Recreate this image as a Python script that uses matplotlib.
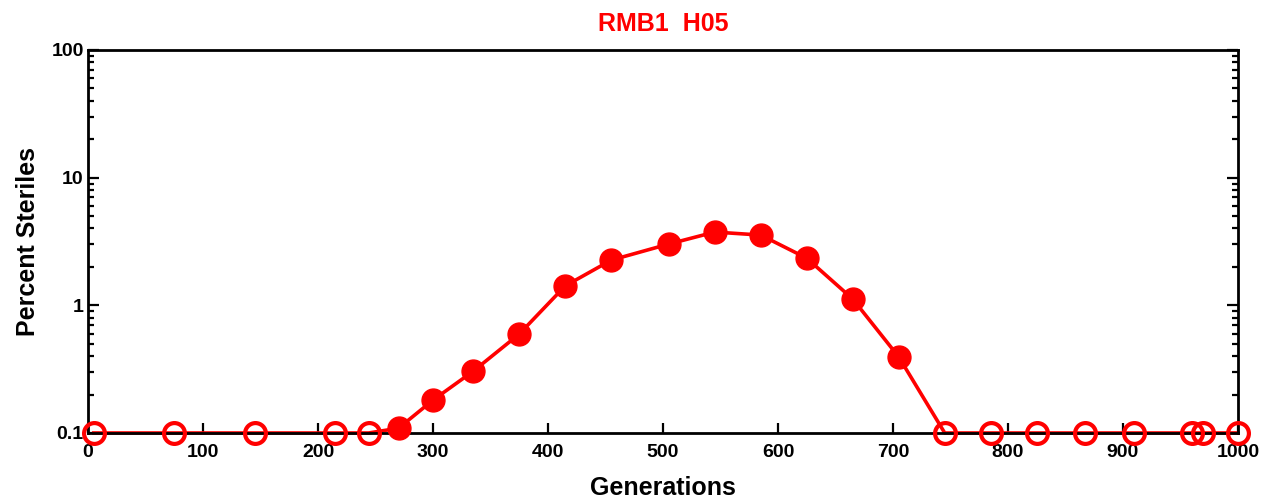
import matplotlib
matplotlib.use('Agg')
import matplotlib.pyplot as plt
from matplotlib.ticker import LogLocator, FixedLocator, NullFormatter, FixedFormatter

plt.rcParams['font.family'] = ['Liberation Sans', 'DejaVu Sans']

# generations and percent steriles
gen = [5, 75, 145, 215, 244, 270, 300, 335, 375, 415, 455, 505, 545, 585,
       625, 665, 705, 745, 785, 825, 867, 910, 960, 970, 1000]
pct = [0.1, 0.1, 0.1, 0.1, 0.1, 0.109, 0.181, 0.305, 0.596, 1.42, 2.26, 3.02,
       3.75, 3.55, 2.34, 1.12, 0.394, 0.1, 0.1, 0.1, 0.1, 0.1, 0.1, 0.1, 0.1]
# True = measured (filled marker), False = at detection floor (open marker)
filled = [False] * 5 + [True] * 12 + [False] * 8

red = '#ff0000'
fig = plt.figure(figsize=(12.63, 5.04), dpi=100)
ax = fig.add_axes([0.0697, 0.1409, 0.9105, 0.7599])

ax.plot(gen, pct, color=red, lw=2.6, zorder=2, clip_on=False)
fx = [g for g, f in zip(gen, filled) if f]
fy = [p for p, f in zip(pct, filled) if f]
ox = [g for g, f in zip(gen, filled) if not f]
oy = [p for p, f in zip(pct, filled) if not f]
ax.plot(fx, fy, 'o', ms=16.5, color=red, mec=red, zorder=3, clip_on=False)
ax.plot(ox, oy, 'o', ms=15, mfc='none', mec=red, mew=3, zorder=3, clip_on=False)

ax.set_yscale('log')
ax.set_xlim(0, 1000)
ax.set_ylim(0.1, 100)
ax.xaxis.set_major_locator(FixedLocator(range(0, 1001, 100)))
ax.yaxis.set_major_locator(FixedLocator([0.1, 1, 10, 100]))
ax.yaxis.set_major_formatter(FixedFormatter(['0.1', '1', '10', '100']))
ax.yaxis.set_minor_locator(LogLocator(base=10, subs=range(2, 10)))
ax.yaxis.set_minor_formatter(NullFormatter())

ax.tick_params(axis='both', which='both', direction='in', top=False, right=True,
               width=1.6)
ax.tick_params(axis='x', which='major', length=7, labelsize=14, pad=8)
ax.tick_params(axis='y', which='major', length=8, labelsize=14, pad=3)
ax.tick_params(axis='y', which='minor', length=4.5)
for lab in ax.get_xticklabels() + ax.get_yticklabels():
    lab.set_fontweight('bold')
for sp in ax.spines.values():
    sp.set_linewidth(2)

ax.set_xlabel('Generations', fontsize=18, fontweight='bold', labelpad=11)
ax.set_ylabel('Percent Steriles', fontsize=18, fontweight='bold', labelpad=8)
ax.set_title('RMB1  H05', color=red, fontsize=18, fontweight='bold', pad=14)

fig.savefig('out.png', dpi=100)
